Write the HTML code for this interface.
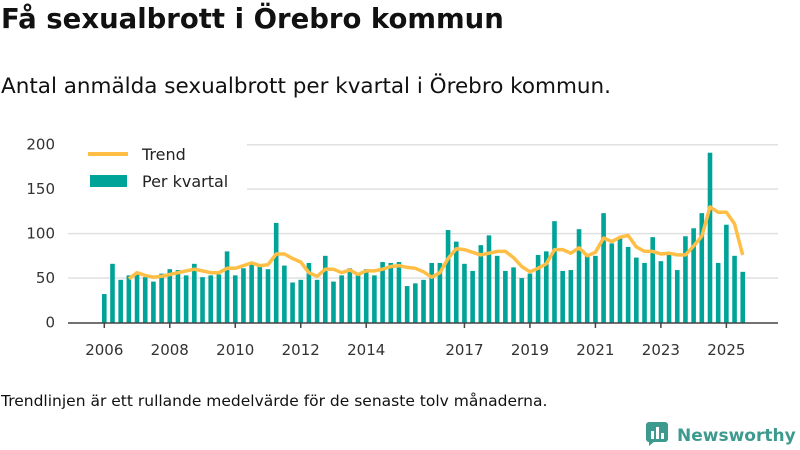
<!DOCTYPE html>
<html><head><meta charset="utf-8"><style>
body{margin:0;width:800px;height:450px;background:#fff;font-family:"DejaVu Sans","Liberation Sans",sans-serif;color:#111;overflow:hidden;position:relative}
#title{position:absolute;left:1px;top:3px;font-size:27.5px;font-weight:bold;margin:0;white-space:nowrap}
#sub{position:absolute;left:1px;top:74px;font-size:21.5px;white-space:nowrap}
#foot{position:absolute;left:1px;top:392px;font-size:15.5px;white-space:nowrap}
#logo{position:absolute;left:645px;top:421px;font-size:17px;font-weight:bold;color:#3d9a8e;white-space:nowrap}
</style></head><body>
<h1 id="title">Få sexualbrott i Örebro kommun</h1>
<div id="sub">Antal anmälda sexualbrott per kvartal i Örebro kommun.</div>
<svg id="chart" width="800" height="450" style="position:absolute;left:0;top:0"></svg>
<div id="foot">Trendlinjen är ett rullande medelvärde för de senaste tolv månaderna.</div>
<div id="logo"><svg width="26" height="26" style="vertical-align:-6px;margin-right:6px"><rect x="1" y="1" width="22" height="20" rx="3" fill="#3d9a8e"/><path d="M4 25 L10 20 L4 20Z" fill="#3d9a8e"/><rect x="6" y="10" width="3" height="8" fill="#fff"/><rect x="11" y="6" width="3" height="12" fill="#fff"/><rect x="16" y="12" width="3" height="6" fill="#fff"/></svg>Newsworthy</div>
<script>
const values=[32,66,48,53,55,51,46,55,60,59,53,66,51,53,54,80,53,61,67,63,60,112,64,45,48,67,48,75,46,53,61,55,60,53,68,67,68,41,44,48,67,67,104,91,66,58,87,98,75,58,62,50,55,76,80,114,58,59,105,75,75,123,89,95,85,73,67,96,69,76,59,97,106,123,191,67,110,75,57];
const trend=[49,56,53,51,52,54,56,58,60,58,56,56,61,61,64,67,64,65,77,77,72,68,56,52,60,60,56,59,54,58,58,60,63,64,62,61,57,51,56,72,83,82,79,76,78,80,80,73,63,57,61,66,82,82,78,84,75,79,95,91,96,98,85,80,80,77,78,76,76,86,97,130,124,124,111,76];
const trendStart=3;
const yTicks=[0,50,100,150,200];
const xLabels=["2006","2008","2010","2012","2014","2017","2019","2021","2023","2025"];
const startYear=2006;
const svg=document.getElementById('chart');
const NS='http://www.w3.org/2000/svg';
const y=v=>322.5-v*0.889;
const xq=i=>104.3+i*8.185;
const xYear=yr=>104.3+(yr-startYear)*32.74;
function mk(t,a){const e=document.createElementNS(NS,t);for(const k in a)e.setAttribute(k,a[k]);svg.appendChild(e);return e;}
yTicks.forEach(v=>{
  if(v>0){const g=mk('line',{x1:68,x2:778,y1:y(v),y2:y(v),stroke:'#e0e0e0','stroke-width':1.5});
  
  }
  const t=mk('text',{x:55,y:y(v)+5,'text-anchor':'end','font-size':15,fill:'#333'});t.textContent=v;
  
  
});
values.forEach((v,i)=>{
  const r=mk('rect',{x:xq(i)-2.3,y:y(v),width:4.6,height:322.5-y(v),fill:'#00a398'});
  
  
});
const pts=trend.map((v,i)=>xq(i+trendStart).toFixed(1)+','+y(v).toFixed(1)).join(' ');
const pl=mk('polyline',{points:pts,fill:'none',stroke:'#ffbe45','stroke-width':3.5,'stroke-linejoin':'round'});


const ax=mk('line',{x1:68,x2:778,y1:323,y2:323,stroke:'#444','stroke-width':1.5});


xLabels.forEach(l=>{
  const x=xYear(+l);
  const tk=mk('line',{x1:x,x2:x,y1:323,y2:328,stroke:'#444','stroke-width':1.5});
  
  
  const t=mk('text',{x:x,y:355,'text-anchor':'middle','font-size':15,fill:'#333'});t.textContent=l;
  
  
});
const lb=mk('rect',{x:62,y:143,width:185,height:50,fill:'#fff'});


const l1=mk('line',{x1:88,x2:128,y1:154,y2:154,stroke:'#ffbe45','stroke-width':4});


const t1=mk('text',{x:142,y:160,'font-size':16,fill:'#222'});t1.textContent='Trend';


const r2=mk('rect',{x:90,y:175,width:37,height:12,fill:'#00a398'});


const t2=mk('text',{x:142,y:187,'font-size':16,fill:'#222'});t2.textContent='Per kvartal';


</script>
</body></html>
